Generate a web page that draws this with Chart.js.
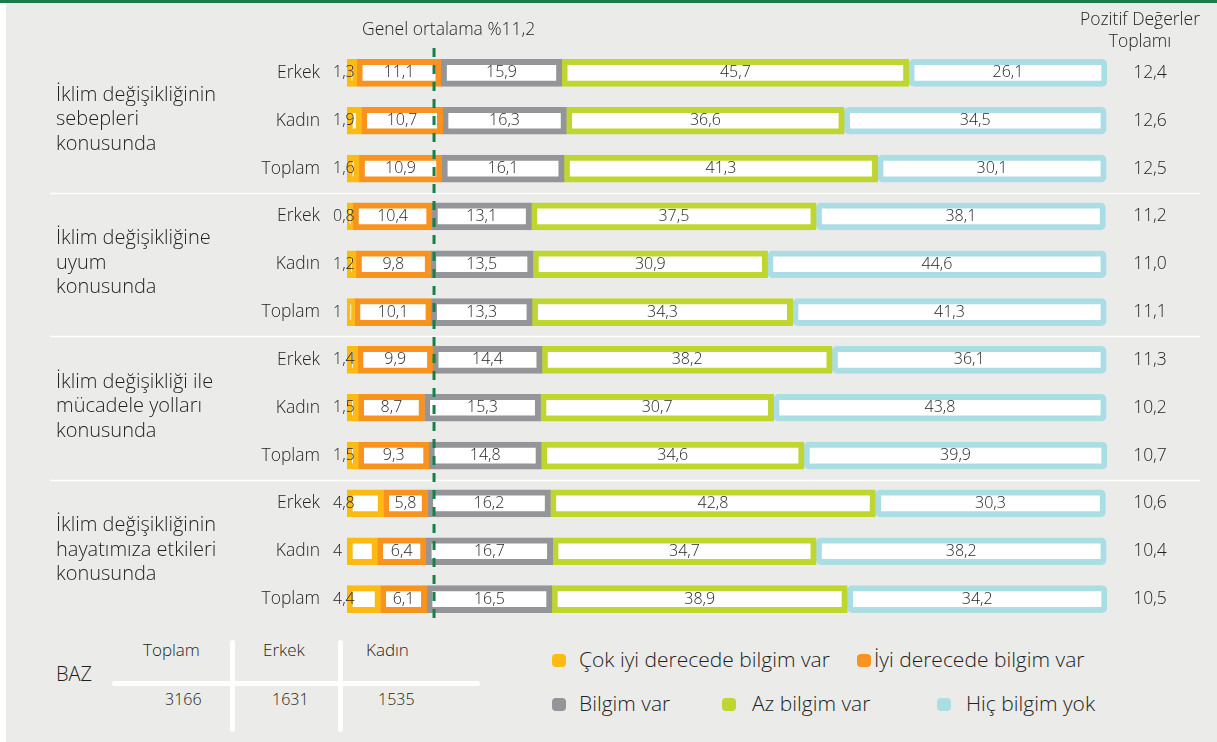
<!DOCTYPE html>
<html lang="tr">
<head>
<meta charset="utf-8">
<script src="https://cdn.jsdelivr.net/npm/chart.js@4"></script>
<style>
  body { margin: 0; background: #fff; font-family: "Open Sans", "Liberation Sans", sans-serif; color: #231f20; }
  #panel { position: absolute; left: 6px; top: 0; width: 1211px; height: 742px; background: #ebebea; }
  #topLine { position: absolute; left: 0; top: 0; width: 1217px; height: 3px; background: #1c7d4a; }
  #chartBox { position: absolute; left: 0; top: 0; }
  .txt { position: absolute; font-weight: 300; white-space: nowrap; }
  .brush { position: absolute; background: #fff; border-radius: 3px; }
  .mark { position: absolute; width: 14px; height: 13px; border-radius: 4px; }
</style>
</head>
<body>
<div id="panel"></div>
<div id="topLine"></div>

<!-- BAZ tablosu -->
<div class="brush" style="left:112px; top:681px; width:368px; height:5px;"></div>
<div class="brush" style="left:230px; top:640px; width:5px; height:92px;"></div>
<div class="brush" style="left:338px; top:640px; width:5px; height:92px;"></div>
<div class="txt" style="left:56px; top:660px; font-size:20px;">BAZ</div>
<div class="txt" style="left:143px; top:638px; font-size:17px;">Toplam</div>
<div class="txt" style="left:263px; top:638px; font-size:17px;">Erkek</div>
<div class="txt" style="left:366px; top:638px; font-size:17px;">Kadın</div>
<div class="txt" style="left:165px; top:688px; font-size:16px;">3166</div>
<div class="txt" style="left:272px; top:688px; font-size:16px;">1631</div>
<div class="txt" style="left:378px; top:688px; font-size:16px;">1535</div>

<div id="legend"></div>

<div id="chartBox"><canvas id="barChart" width="1217" height="742"></canvas></div>

<script>
// 데이터
const rowLabels = ['Erkek', 'Kadın', 'Toplam', 'Erkek', 'Kadın', 'Toplam',
                   'Erkek', 'Kadın', 'Toplam', 'Erkek', 'Kadın', 'Toplam'];
const groupLabels = [
    ['İklim değişikliğinin', 'sebepleri', 'konusunda'],
    ['İklim değişikliğine', 'uyum', 'konusunda'],
    ['İklim değişikliği ile', 'mücadele yolları', 'konusunda'],
    ['İklim değişikliğinin', 'hayatımıza etkileri', 'konusunda']
];
const seriesNames = ['Çok iyi derecede bilgim var', 'İyi derecede bilgim var', 'Bilgim var', 'Az bilgim var', 'Hiç bilgim yok'];
const cokIyi = [1.3, 1.9, 1.6, 0.8, 1.2, 1, 1.4, 1.5, 1.5, 4.8, 4, 4.4];
const iyi = [11.1, 10.7, 10.9, 10.4, 9.8, 10.1, 9.9, 8.7, 9.3, 5.8, 6.4, 6.1];
const bilgimVar = [15.9, 16.3, 16.1, 13.1, 13.5, 13.3, 14.4, 15.3, 14.8, 16.2, 16.7, 16.5];
const azBilgim = [45.7, 36.6, 41.3, 37.5, 30.9, 34.3, 38.2, 30.7, 34.6, 42.8, 34.7, 38.9];
const hicBilgim = [26.1, 34.5, 30.1, 38.1, 44.6, 41.3, 36.1, 43.8, 39.9, 30.3, 38.2, 34.2];
const pozitifToplam = [12.4, 12.6, 12.5, 11.2, 11.0, 11.1, 11.3, 10.2, 10.7, 10.6, 10.4, 10.5];
const genelOrtalama = 11.2;

const colors = ['#fbbb12', '#f7931e', '#939598', '#bfd631', '#abdde5'];
const FONT = '"Open Sans", "Liberation Sans", sans-serif';

const fmt = v => String(v).replace('.', ',');
const fmt1 = v => v.toFixed(1).replace('.', ',');

// legend (HTML)
const legendPos = [[552, 650], [857, 650], [552, 694], [722, 694], [937, 694]];
const legendTextX = [579, 874, 579, 752, 966];
let legendHtml = '';
seriesNames.forEach((name, i) => {
    legendHtml += '<div class="mark" style="left:' + legendPos[i][0] + 'px; top:' + (legendPos[i][1] + 4) + 'px; background:' + colors[i] + ';"></div>';
    legendHtml += '<div class="txt" style="left:' + legendTextX[i] + 'px; top:' + (legendPos[i][1] - 5) + 'px; font-size:21px;">' + name + '</div>';
});
document.getElementById('legend').innerHTML = legendHtml;

// 막대 위 라벨, 그룹 라벨 등 그리기
const extrasPlugin = {
    id: 'extras',
    beforeDatasetsDraw(chart) {
        const ctx = chart.ctx;
        const y = chart.scales.y;
        ctx.save();
        ctx.strokeStyle = '#ffffff';
        ctx.lineWidth = 1.5;
        [3, 6, 9].forEach(i => {
            const yy = Math.round((y.getPixelForValue(i - 1) + y.getPixelForValue(i)) / 2) + 0.5;
            ctx.beginPath();
            ctx.moveTo(50, yy);
            ctx.lineTo(1200, yy);
            ctx.stroke();
        });
        ctx.restore();
    },
    afterDatasetsDraw(chart) {
        const ctx = chart.ctx;
        const x = chart.scales.x;
        const y = chart.scales.y;
        ctx.save();
        ctx.fillStyle = '#231f20';
        ctx.textBaseline = 'middle';

        // 값 라벨
        ctx.font = '300 16px ' + FONT;
        chart.data.datasets.forEach((ds, d) => {
            const meta = chart.getDatasetMeta(d);
            meta.data.forEach((bar, i) => {
                const txt = fmt(ds.data[i]);
                if (d === 0) {
                    ctx.textAlign = 'left';
                    ctx.fillText(txt, bar.base - 14, bar.y);
                } else {
                    ctx.textAlign = 'center';
                    ctx.fillText(txt, (bar.base + bar.x) / 2, bar.y);
                }
            });
        });

        // 평균선
        const ax = x.getPixelForValue(genelOrtalama) + 2;
        ctx.strokeStyle = '#16804a';
        ctx.lineWidth = 3;
        ctx.setLineDash([9, 8]);
        ctx.beginPath();
        ctx.moveTo(ax, 48);
        ctx.lineTo(ax, 622);
        ctx.stroke();
        ctx.setLineDash([]);

        // 오른쪽 합계
        ctx.textAlign = 'center';
        ctx.font = '300 17.5px ' + FONT;
        pozitifToplam.forEach((v, i) => {
            ctx.fillText(fmt1(v), 1150, y.getPixelForValue(i));
        });
        ctx.fillText('Pozitif Değerler', 1140, 20);
        ctx.fillText('Toplamı', 1140, 42);

        ctx.textAlign = 'left';
        ctx.fillText('Genel ortalama %11,2', 362, 30);

        // 그룹 라벨
        ctx.font = '300 20px ' + FONT;
        groupLabels.forEach((lines, g) => {
            const cy = y.getPixelForValue(g * 3 + 1) - 1;
            lines.forEach((line, k) => {
                ctx.fillText(line, 56, cy + (k - 1) * 24.5);
            });
        });
        ctx.restore();
    }
};

const chart = new Chart(document.getElementById('barChart').getContext('2d'), {
    type: 'bar',
    data: {
        labels: rowLabels,
        datasets: [cokIyi, iyi, bilgimVar, azBilgim, hicBilgim].map((vals, i) => ({
            label: seriesNames[i],
            data: vals,
            backgroundColor: '#ffffff',
            borderColor: colors[i],
            borderWidth: 6,
            borderRadius: 5,
            borderSkipped: false,
            barThickness: 27
        }))
    },
    options: {
        indexAxis: 'y',
        responsive: false,
        animation: false,
        layout: { padding: { left: 0, right: 110, top: 49, bottom: 119 } },
        plugins: {
            legend: { display: false },
            tooltip: { enabled: false }
        },
        scales: {
            x: {
                stacked: true,
                display: false,
                min: 0,
                max: 100.1
            },
            y: {
                stacked: true,
                grid: { display: false, drawTicks: false },
                border: { display: false },
                afterFit(scale) { scale.width = 347; },
                ticks: {
                    padding: 27,
                    color: '#231f20',
                    font: { family: FONT, size: 17.5, weight: '300' }
                }
            }
        }
    },
    plugins: [extrasPlugin]
});
</script>
</body>
</html>
